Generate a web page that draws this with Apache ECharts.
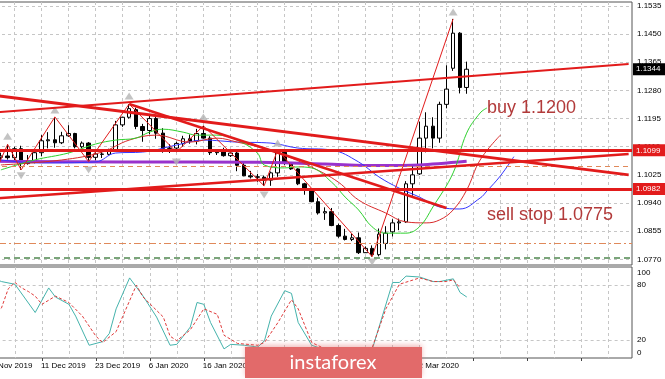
<!DOCTYPE html>
<html><head><meta charset="utf-8">
<script src="https://cdn.jsdelivr.net/npm/echarts@6/dist/echarts.min.js"></script>
<style>html,body{margin:0;padding:0;background:#fff;overflow:hidden;width:665px;height:379px}#c{position:absolute;left:-16px;top:0;width:681px;height:379px}</style>
</head><body><div id="c"></div>
<script>
// ---------- DATA ----------
const dates = ['29 Nov 2019','2 Dec 2019','3 Dec 2019','4 Dec 2019','5 Dec 2019','6 Dec 2019','9 Dec 2019','10 Dec 2019','11 Dec 2019','12 Dec 2019',
'13 Dec 2019','16 Dec 2019','17 Dec 2019','18 Dec 2019','19 Dec 2019','20 Dec 2019','23 Dec 2019','24 Dec 2019','26 Dec 2019','27 Dec 2019',
'30 Dec 2019','31 Dec 2019','2 Jan 2020','3 Jan 2020','6 Jan 2020','7 Jan 2020','8 Jan 2020','9 Jan 2020','10 Jan 2020','13 Jan 2020',
'14 Jan 2020','15 Jan 2020','16 Jan 2020','17 Jan 2020','20 Jan 2020','21 Jan 2020','22 Jan 2020','23 Jan 2020','24 Jan 2020','27 Jan 2020',
'28 Jan 2020','29 Jan 2020','30 Jan 2020','31 Jan 2020','3 Feb 2020','4 Feb 2020','5 Feb 2020','6 Feb 2020','7 Feb 2020','10 Feb 2020',
'11 Feb 2020','12 Feb 2020','13 Feb 2020','14 Feb 2020','17 Feb 2020','18 Feb 2020','19 Feb 2020','20 Feb 2020','21 Feb 2020','24 Feb 2020',
'25 Feb 2020','26 Feb 2020','27 Feb 2020','28 Feb 2020','2 Mar 2020','3 Mar 2020','4 Mar 2020','5 Mar 2020','6 Mar 2020','9 Mar 2020',
'10 Mar 2020','11 Mar 2020'];
const opens = [1.1009,1.1017,1.1078,1.1082,1.1077,1.1104,1.1059,1.1064,1.1092,1.1128,
1.1131,1.1122,1.1143,1.1150,1.1110,1.1121,1.1078,1.1088,1.1087,1.1100,
1.1176,1.1199,1.1222,1.1171,1.1159,1.1195,1.1151,1.1105,1.1106,1.1120,
1.1134,1.1127,1.1150,1.1136,1.1092,1.1094,1.1083,1.1091,1.1054,1.1022,
1.1019,1.1018,1.1009,1.1031,1.1093,1.1060,1.1043,1.0998,1.0980,1.0944,
1.0910,1.0914,1.0872,1.0840,1.0830,1.0835,1.0790,1.0803,1.0784,1.0818,
1.0853,1.0880,1.0883,1.0998,1.1028,1.1136,1.1172,1.1136,1.1238,1.1347,
1.1453,1.1289];
const highs = [1.1025,1.1090,1.1092,1.1117,1.1110,1.1113,1.1085,1.1096,1.1145,1.1154,
1.1200,1.1155,1.1175,1.1152,1.1126,1.1124,1.1093,1.1097,1.1104,1.1188,
1.1200,1.1239,1.1228,1.1179,1.1206,1.1201,1.1166,1.1118,1.1125,1.1143,
1.1147,1.1164,1.1173,1.1142,1.1100,1.1107,1.1098,1.1103,1.1062,1.1037,
1.1028,1.1023,1.1035,1.1100,1.1096,1.1063,1.1045,1.1001,1.0983,1.0956,
1.0927,1.0925,1.0878,1.0862,1.0847,1.0851,1.0809,1.0812,1.0863,1.0870,
1.0891,1.0893,1.1006,1.1054,1.1186,1.1214,1.1199,1.1246,1.1356,1.1496,
1.1456,1.1367];
const lows = [1.0981,1.1000,1.1066,1.1071,1.1070,1.1040,1.1056,1.1060,1.1081,1.1105,
1.1107,1.1118,1.1140,1.1105,1.1105,1.1065,1.1069,1.1076,1.1084,1.1098,
1.1170,1.1195,1.1163,1.1125,1.1148,1.1134,1.1092,1.1091,1.1094,1.1110,
1.1119,1.1117,1.1134,1.1085,1.1085,1.1080,1.1079,1.1036,1.1021,1.1014,
1.1004,1.0992,1.0992,1.1019,1.1055,1.1040,1.0994,1.0965,1.0943,1.0905,
1.0889,1.0870,1.0835,1.0827,1.0825,1.0786,1.0789,1.0778,1.0779,1.0800,
1.0839,1.0858,1.0880,1.0962,1.1025,1.1093,1.1105,1.1122,1.1226,1.1339,
1.1271,1.1270];
const closes = [1.1016,1.1078,1.1082,1.1077,1.1104,1.1059,1.1064,1.1092,1.1128,1.1131,
1.1122,1.1143,1.1150,1.1110,1.1121,1.1078,1.1088,1.1087,1.1100,1.1176,
1.1199,1.1225,1.1171,1.1159,1.1195,1.1151,1.1105,1.1106,1.1120,1.1134,
1.1127,1.1150,1.1136,1.1092,1.1094,1.1083,1.1091,1.1054,1.1022,1.1019,
1.1018,1.1009,1.1031,1.1093,1.1060,1.1043,1.0998,1.0980,1.0944,1.0910,
1.0914,1.0872,1.0840,1.0830,1.0835,1.0790,1.0803,1.0784,1.0846,1.0849,
1.0880,1.0883,1.0998,1.1025,1.1136,1.1172,1.1136,1.1238,1.1284,1.1453,
1.1289,1.1344];

// Alligator lines (bar index, price)
const jaw = [[2,1.1070],[8,1.1061],[16,1.1064],[19,1.1091],[23,1.1094],[28,1.1115],[32,1.1130],[37,1.1124],[42,1.1121],[46,1.1106],[51,1.1100],[55,1.1064],[58,1.1019],[61,1.0985],[64,1.0958],[67,1.0928],[70,1.0922],[73,1.0955],[74,1.0976],[76,1.1022],[78,1.1080]];
const teeth = [[2,1.1055],[11,1.1070],[17,1.1094],[21,1.1130],[25,1.1145],[30,1.1124],[34,1.1136],[37,1.1124],[42,1.1100],[45,1.1076],[48,1.1049],[52,1.1003],[55,1.0949],[59,1.0910],[62,1.0883],[65,1.0880],[67,1.0889],[69,1.0919],[71,1.0979],[73,1.1070],[76,1.1145]];
const lips = [[2,1.1040],[7,1.1070],[12,1.1091],[16,1.1118],[19,1.1130],[22,1.1136],[24,1.1154],[26,1.1163],[29,1.1154],[31,1.1145],[34,1.1145],[37,1.1130],[40,1.1091],[41,1.1055],[44,1.1046],[46,1.1049],[48,1.1046],[51,1.1003],[53,1.0958],[55,1.0919],[57,1.0868],[59,1.0849],[62,1.0849],[64,1.0868],[66,1.0928],[69,1.1031],[71,1.1151],[73,1.1212],[74,1.1227]];
const slowMA = [[0,1.1066],[20,1.1064],[40,1.1063],[50,1.1058],[58,1.1053],[64,1.1055],[71,1.1066]];
const zigzag = [[0,1.0981],[3,1.1117],[5,1.1040],[10,1.1200],[15,1.1065],[21,1.1239],[28,1.1094],[32,1.1173],[41,1.0992],[43,1.1100],[57,1.0778],[69,1.1496]];
const fractalUp = [[3,1.1142],[10,1.1221],[21,1.1263],[32,1.1200],[43,1.1121],[69,1.1517]];
const fractalDown = [[5,1.1022],[15,1.1040],[28,1.1064],[41,1.0964],[57,1.0762]];

// Stochastic (bar index, value)
const stochMain = [[1,87],[2,84],[4,81],[7,50],[9,77],[10,67],[12,59],[13,46],[15,14],[17,18],[18,27],[19,54],[21,88],[23,68],[25,45],[27,14],[28,15],[30,34],[31,61],[32,59],[33,39],[35,10],[36,15],[38,14],[40,12],[41,19],[42,46],[44,74],[45,71],[46,39],[48,14],[50,9],[53,8],[56,8],[57,10],[60,83],[61,83],[62,90],[64,89],[66,84],[67,84],[69,87],[70,72],[71,67]];
const stochSignal = [[1,46],[2,55],[3,76],[4,83],[5,77],[6,73],[7,68],[8,59],[10,68],[12,61],[14,46],[16,24],[17,17],[19,29],[20,46],[22,80],[23,67],[26,45],[27,24],[28,19],[30,31],[32,54],[34,48],[35,25],[37,16],[40,14],[41,17],[43,39],[45,64],[46,54],[48,17],[50,10],[53,9],[56,9],[57,12],[59,54],[61,81],[64,88],[66,84],[68,84],[69,86],[70,77]];

// Lines drawn on the chart
const trendLines = [[[0,1.1212],[95,1.1360]],[[0,1.1268],[95,1.1025]],[[21,1.1239],[68,1.0925]],[[0,1.0952],[95,1.1088]]];
const supportResistance = [1.1099, 1.0982];
const orangeLevels = [1.1052, 1.0817];
const greenLevel = 1.0775;
const lastPrice = 1.1344;
const annotations = [{text:'buy 1.1200', idx:74, price:1.1228}, {text:'sell stop 1.0775', idx:74, price:1.0904}];

// Axis ticks
const priceTicks = [1.1535,1.1450,1.1365,1.1280,1.1195,1.1110,1.1025,1.0940,1.0855,1.0770];
const stochTicks = [100,80,20,0];
const stochLevels = [80,20];

// ---------- CHART ----------
const N = 96;
const cats = [];
for (let i = 0; i < N; i++) cats.push(i < dates.length ? dates[i] : 'f' + i);
const candles = dates.map((d, i) => [opens[i], closes[i], lows[i], highs[i]]);

const FONT = '"Liberation Sans", Arial, sans-serif';
const gridLine = {color:'#c6c6c6', type:[3,3], width:1};
const RED = '#e21b1b';
const OX = 16; // container shift (page x = chart x - OX)

const chart = echarts.init(document.getElementById('c'), null, {renderer:'canvas'});

const boxLabel = (txt, bg) => ({show:true, position:'end', distance:1, formatter:txt, color:'#fff', backgroundColor:bg,
  padding:[2,5,1,3], fontSize:8, lineHeight:9, fontFamily:FONT});
const trendWidths = [2, 3, 2.5, 2.5];
const mlData = [];
supportResistance.forEach(v => mlData.push({yAxis:v, lineStyle:{color:RED, width:3, type:'solid'}, label:boxLabel(v.toFixed(4), RED)}));
orangeLevels.forEach((v, k) => mlData.push({yAxis:v, lineStyle:{color:'#e0895a', width:1, type: k === 0 ? [5,4] : [7,3,2,3]}, label:{show:false}}));
mlData.push({yAxis:greenLevel, lineStyle:{color:'#7aa57a', width:2, type:[6,4]}, label:{show:false}});
trendLines.forEach((t, k) => mlData.push([{coord:t[0], lineStyle:{color:RED, width:trendWidths[k], type:'solid'}, label:{show:false}}, {coord:t[1]}]));
mlData.push({yAxis:lastPrice, lineStyle:{color:'transparent', width:0}, label:boxLabel(lastPrice.toFixed(4), '#000')});

const stochLabelShift = {100:5.5, 80:0, 20:0, 0:-5};

const option = {
  animation:false,
  backgroundColor:'#fff',
  grid:[
    {left:0, right:33, top:2, height:263, show:true, borderColor:'#555', borderWidth:1, backgroundColor:'transparent'},
    {left:0, right:33, top:267, height:91, show:true, borderColor:'#555', borderWidth:1, backgroundColor:'transparent'}
  ],
  xAxis:[
    {type:'category', gridIndex:0, data:cats, boundaryGap:true,
      axisLine:{show:false}, axisTick:{show:false}, axisLabel:{show:false},
      splitLine:{show:true, interval:3, alignWithLabel:true, lineStyle:gridLine}},
    {type:'category', gridIndex:1, data:cats, boundaryGap:true,
      axisLine:{show:false},
      axisTick:{show:true, interval:7, alignWithLabel:true, length:3, lineStyle:{color:'#444'}},
      axisLabel:{show:true, interval:7, hideOverlap:false, formatter:(v, i) => i < dates.length ? dates[i] : '',
        align:'left', fontSize:8, color:'#000', margin:4, fontFamily:FONT, padding:[0,0,0,-1]},
      splitLine:{show:true, interval:3, alignWithLabel:true, lineStyle:gridLine}}
  ],
  yAxis:[
    {type:'value', gridIndex:0, min:1.07528, max:1.15471, position:'right', scale:true,
      axisLine:{show:false}, axisTick:{show:false}, axisLabel:{show:false}, splitLine:{show:false}},
    {type:'value', gridIndex:1, min:0, max:100, position:'right',
      axisLine:{show:false}, axisTick:{show:false}, axisLabel:{show:false}, splitLine:{show:false}}
  ],
  series:[
    {type:'line', xAxisIndex:0, yAxisIndex:0, data:[], z:1, silent:true,
      markLine:{silent:true, symbol:'none', z:1, precision:4, animation:false, lineStyle:gridLine,
        label:{show:true, position:'end', distance:5, formatter:p => Number(p.value).toFixed(4), color:'#000', fontSize:8, fontFamily:FONT},
        data:priceTicks.map(v => ({yAxis:v}))}},
    {type:'candlestick', xAxisIndex:0, yAxisIndex:0, data:candles, barWidth:4, z:2,
      itemStyle:{color:'#fff', color0:'#000', borderColor:'#000', borderColor0:'#000', borderWidth:1}},
    {type:'line', xAxisIndex:0, yAxisIndex:0, data:slowMA, symbol:'none', smooth:0.3, z:3,
      lineStyle:{color:'#9932cc', width:3}},
    {type:'line', xAxisIndex:0, yAxisIndex:0, data:jaw, symbol:'none', smooth:0.4, z:3,
      lineStyle:{color:'#3535ff', width:1}},
    {type:'line', xAxisIndex:0, yAxisIndex:0, data:teeth, symbol:'none', smooth:0.4, z:3,
      lineStyle:{color:'#d92a2a', width:1}},
    {type:'line', xAxisIndex:0, yAxisIndex:0, data:lips, symbol:'none', smooth:0.4, z:3,
      lineStyle:{color:'#2ed12e', width:1}},
    {type:'line', xAxisIndex:0, yAxisIndex:0, data:zigzag, symbol:'none', z:3,
      lineStyle:{color:RED, width:1},
      markLine:{silent:true, symbol:'none', z:5, precision:4, animation:false, data:mlData},
      markPoint:{silent:true, symbol:'circle', symbolSize:0, z:6,
        label:{show:true, position:'right', distance:0, formatter:'{b}', color:'#b23a3a', fontSize:18, fontFamily:FONT},
        data:annotations.map(a => ({name:a.text, coord:[a.idx, a.price]}))}},
    {type:'scatter', xAxisIndex:0, yAxisIndex:0, data:fractalUp, symbol:'triangle', symbolSize:[9,7], z:4,
      itemStyle:{color:'#b4b4b4', opacity:0.8}},
    {type:'scatter', xAxisIndex:0, yAxisIndex:0, data:fractalDown, symbol:'triangle', symbolRotate:180, symbolSize:[9,7], z:4,
      itemStyle:{color:'#b4b4b4', opacity:0.8}},
    {type:'line', xAxisIndex:1, yAxisIndex:1, data:stochMain, symbol:'none', z:3,
      lineStyle:{color:'#45b3ac', width:1},
      markLine:{silent:true, symbol:'none', z:1, precision:0, animation:false,
        data:stochTicks.map(v => ({yAxis:v,
          lineStyle: stochLevels.indexOf(v) >= 0 ? gridLine : {color:'transparent', width:0},
          label:{show:true, position:'end', distance:5, formatter:String(v), color:'#000', fontSize:8, fontFamily:FONT, offset:[0, stochLabelShift[v]]}}))}},
    {type:'line', xAxisIndex:1, yAxisIndex:1, data:stochSignal, symbol:'none', z:3,
      lineStyle:{color:'#e03a3a', width:1, type:[3,2]}}
  ],
  graphic:[
    {type:'rect', x:245 + OX, y:347, shape:{width:177, height:31}, z:100,
      style:{fill:'#e26a6a', shadowBlur:5, shadowColor:'rgba(225,110,110,0.45)', shadowOffsetY:-2}},
    {type:'text', x:333 + OX, y:363, z:101,
      style:{text:'instaforex', fill:'#fff', font:'20px Lato, "Open Sans", sans-serif', textAlign:'center', textVerticalAlign:'middle'}}
  ]
};
chart.setOption(option);
</script>
</body></html>
